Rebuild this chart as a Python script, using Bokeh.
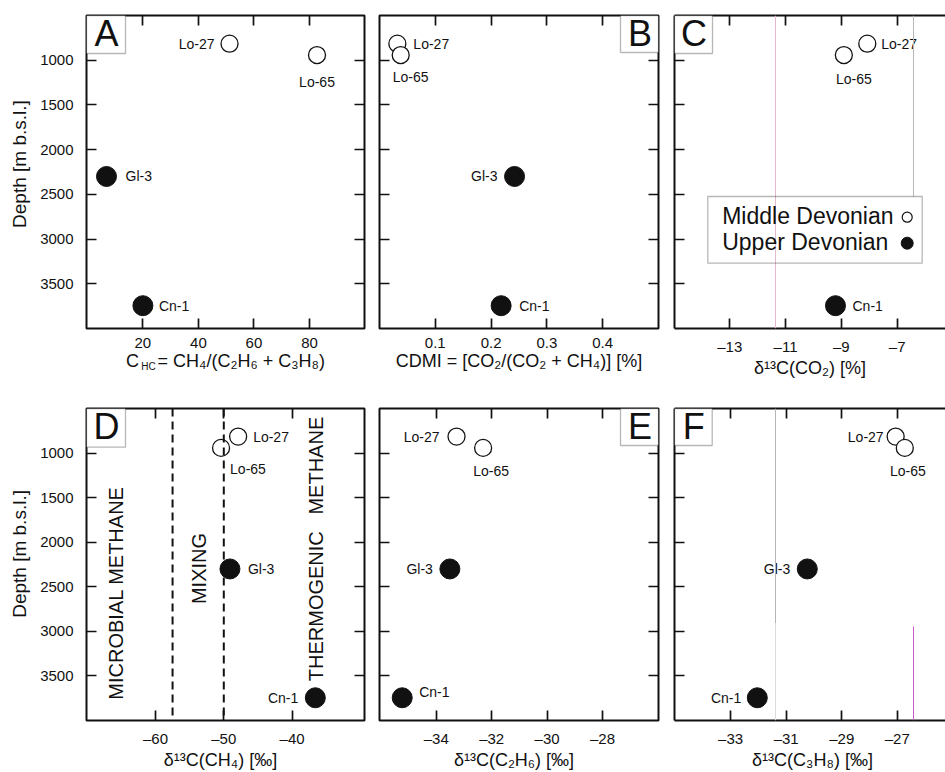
import math
from bokeh.plotting import figure
from bokeh.layouts import row, column
from bokeh.models import (Label, BoxAnnotation, Span, FixedTicker, LinearAxis,
                          Range1d, ColumnDataSource)
from bokeh.embed import file_html
from bokeh.resources import INLINE

FONT = "Liberation Sans"
INK = "#111111"
NB = "\u00a0"

# ---------------- data ----------------
samples = ["Lo-27", "Lo-65", "Gl-3", "Cn-1"]
stratigraphy = ["Middle Devonian", "Middle Devonian", "Upper Devonian", "Upper Devonian"]
depth_m = [815, 942, 2300, 3745]
c_hc = [51.2, 82.7, 6.9, 20.0]
cdmi = [0.032, 0.038, 0.242, 0.218]
d13c_co2 = [-8.07, -8.91, float("nan"), -9.21]
d13c_ch4 = [-47.9, -50.4, -49.1, -36.6]
d13c_c2h6 = [-33.27, -32.31, -33.51, -35.23]
d13c_c3h8 = [-27.06, -26.73, -30.24, -32.04]

depth_ticks = [1000, 1500, 2000, 2500, 3000, 3500]
ticks_a = [20, 40, 60, 80]
ticks_b = [0.1, 0.2, 0.3, 0.4]
ticks_c = [-13, -11, -9, -7]
ticks_d = [-60, -50, -40]
ticks_e = [-34, -32, -30, -28]
ticks_f = [-33, -31, -29, -27]
mixing_bounds = [-57.5, -50]

DEPTH_RANGE = (4000, 500)


def dash_label(t):
    return ("%g" % t).replace("-", "\u2013")


def style_axis(ax, tk, labels, std, line):
    ax.ticker = FixedTicker(ticks=tk, minor_ticks=[])
    ax.major_tick_in = 10
    ax.major_tick_out = 0
    ax.minor_tick_in = 0
    ax.minor_tick_out = 0
    ax.major_tick_line_color = INK
    ax.major_tick_line_width = 1.7
    if line:
        ax.axis_line_color = INK
        ax.axis_line_width = 2
    else:
        ax.axis_line_color = None
    ax.major_label_text_font = FONT
    if labels:
        ax.major_label_text_color = INK
        ax.major_label_text_font_size = "15px"
        ax.major_label_standoff = std
        ax.major_label_overrides = {t: dash_label(t) for t in tk}
    else:
        ax.major_label_text_color = None
        ax.major_label_text_font_size = "1px"
        ax.major_label_standoff = 0
    ax.axis_label_text_font = FONT
    ax.axis_label_text_font_style = "normal"
    ax.axis_label_text_color = INK


def make_panel(letter, xvals, xr, ticks, fw, fh, bl, br, bt, bb,
               ytitle, xtitle, right_edge, label_spec, letter_box):
    p = figure(width=bl + fw + br, height=bt + fh + bb,
               x_range=Range1d(*xr), y_range=Range1d(*DEPTH_RANGE),
               x_axis_type=None, y_axis_type=None,
               output_backend="svg", toolbar_location=None,
               min_border_left=bl, min_border_right=br,
               min_border_top=bt, min_border_bottom=bb)
    p.background_fill_color = "white"
    p.border_fill_color = "white"
    p.xgrid.visible = False
    p.ygrid.visible = False
    if right_edge:
        p.outline_line_color = INK
        p.outline_line_width = 2
    else:
        p.outline_line_color = None
    line = not right_edge

    bottom = LinearAxis()
    style_axis(bottom, ticks, True, 9, line)
    bottom.axis_label = xtitle
    bottom.axis_label_text_font_size = "18px"
    bottom.axis_label_standoff = 0
    p.add_layout(bottom, "below")

    top = LinearAxis()
    style_axis(top, ticks, False, 0, line)
    p.add_layout(top, "above")

    left = LinearAxis()
    style_axis(left, depth_ticks, ytitle is not None, 13, line)
    if ytitle is not None:
        left.axis_label = ytitle
        left.axis_label_text_font_size = "19px"
        left.axis_label_standoff = 7
    p.add_layout(left, "left")

    if right_edge:
        right = LinearAxis()
        style_axis(right, depth_ticks, False, 0, line)
        p.add_layout(right, "right")

    # points
    mid = {"x": [], "y": []}
    up = {"x": [], "y": []}
    for xv, d, s in zip(xvals, depth_m, stratigraphy):
        if xv != xv:
            continue
        tgt = mid if s.startswith("Middle") else up
        tgt["x"].append(xv)
        tgt["y"].append(d)
    p.scatter("x", "y", source=ColumnDataSource(mid), size=17,
              fill_color="white", line_color=INK, line_width=1.3)
    p.scatter("x", "y", source=ColumnDataSource(up), size=20,
              fill_color=INK, line_color=INK, line_width=1)

    # sample labels
    for name, xv, d in zip(samples, xvals, depth_m):
        if xv != xv or name not in label_spec:
            continue
        align, dx, dy = label_spec[name]
        p.add_layout(Label(x=xv, y=d, x_offset=dx, y_offset=-dy, text=name,
                           text_align=align, text_baseline="middle",
                           text_font=FONT, text_font_size="14px",
                           text_color=INK))

    # panel letter box
    l, t, r, b = letter_box
    p.add_layout(BoxAnnotation(left=l, right=r, top=t, bottom=b,
                               left_units="canvas", right_units="canvas",
                               top_units="canvas", bottom_units="canvas",
                               fill_color="white", fill_alpha=1,
                               line_color=INK, line_width=1.3, level="overlay"))
    p.add_layout(Label(x=(l + r) / 2 + 0.5, y=(t + b) / 2 - 1,
                       x_units="canvas", y_units="canvas", level="overlay",
                       text=letter, text_align="center", text_baseline="middle",
                       text_font=FONT, text_font_size="36px", text_color=INK))
    return p


def add_text(p, x, y, text, size="18px", align="center", baseline="middle",
             angle=0.0):
    p.add_layout(Label(x=x, y=y, x_units="canvas", y_units="canvas", text=text,
                       text_align=align, text_baseline=baseline, angle=angle,
                       text_font=FONT, text_font_size=size, text_color=INK))


def add_vline(p, x, top, bottom, color):
    p.add_layout(BoxAnnotation(left=x - 0.5, right=x + 0.5, top=top, bottom=bottom,
                               left_units="canvas", right_units="canvas",
                               top_units="canvas", bottom_units="canvas",
                               fill_color=color, fill_alpha=1, line_color=None,
                               level="annotation"))


# ---------------- top row ----------------
TOP_FH = 313
XR_A = (-0.3, 99.8)
pA = make_panel("A", c_hc, XR_A, ticks_a, 278, TOP_FH, 86, 7, 15, 62,
                NB * 3 + "Depth [m b.s.l.]",
                "C" + NB * 3 + "\u2009= CH\u2084/(C\u2082H\u2086 + C\u2083H\u2088)",
                True,
                {"Lo-27": ("right", -15, 0), "Lo-65": ("center", 0, 27),
                 "Gl-3": ("left", 19, 0), "Cn-1": ("left", 16, 0)},
                (86, 15, 125, 53))

# subscript "HC" of the x title of panel A, as the label of a bare axis
hc_x = XR_A[0] + (148 - 86) / 278 * (XR_A[1] - XR_A[0])
hc_axis = LinearAxis()
hc_axis.ticker = FixedTicker(ticks=[hc_x], minor_ticks=[])
hc_axis.major_label_overrides = {hc_x: "HC"}
hc_axis.major_tick_in = 0
hc_axis.major_tick_out = 0
hc_axis.minor_tick_in = 0
hc_axis.minor_tick_out = 0
hc_axis.major_tick_line_color = None
hc_axis.axis_line_color = None
hc_axis.major_label_text_font = FONT
hc_axis.major_label_text_font_size = "10px"
hc_axis.major_label_text_color = INK
hc_axis.major_label_standoff = -13
pA.add_layout(hc_axis, "below")

pB = make_panel("B", cdmi, (0.0, 0.5), ticks_b, 279, TOP_FH, 8, 8, 15, 62,
                None, "CDMI = [CO\u2082/(CO\u2082 + CH\u2084)] [%]", True,
                {"Lo-27": ("left", 16, 0), "Lo-65": ("left", -8, 22),
                 "Gl-3": ("right", -17, 0), "Cn-1": ("left", 18, 0)},
                (249, 15, 287, 52))
XR_C = (-14.98, -14.98 + 271 / 27.9)
pC = make_panel("C", d13c_co2, XR_C, ticks_c, 271, TOP_FH, 8, 0, 15, 62,
                None, "\u03b4\u00b9\u00b3C(CO\u2082) [%]", False,
                {"Lo-27": ("left", 14, 0), "Lo-65": ("center", 10, 24),
                 "Cn-1": ("left", 17, 0)},
                (8, 15, 46, 53))

# artefact hairlines seen in panel C
add_vline(pC, 109, 15, 328, "#e6b8cf")
add_vline(pC, 247, 15, 196, "#b8b8b8")

# legend (panel C)
pC.add_layout(BoxAnnotation(left=41.3, right=255.7, top=196, bottom=262.7,
                            left_units="canvas", right_units="canvas",
                            top_units="canvas", bottom_units="canvas",
                            fill_color="white", fill_alpha=0,
                            line_color=INK, line_width=1.3, level="annotation"))
add_text(pC, 55.7, 215, "Middle Devonian", size="23px", align="left")
add_text(pC, 55.7, 241.7, "Upper Devonian", size="23px", align="left")


def c_canvas_to_data(cx, cy):
    x = XR_C[0] + (cx - 8) / 271 * (XR_C[1] - XR_C[0])
    y = DEPTH_RANGE[1] + (cy - 15) / TOP_FH * (DEPTH_RANGE[0] - DEPTH_RANGE[1])
    return x, y


lx, ly1 = c_canvas_to_data(240.7, 216.7)
_, ly2 = c_canvas_to_data(240.7, 242.7)
pC.scatter([lx], [ly1], size=10, fill_color="white", line_color=INK, line_width=1.2)
pC.scatter([lx], [ly2], size=12, fill_color=INK, line_color=INK)

# ---------------- bottom row ----------------
BOT_FH = 312
pD = make_panel("D", d13c_ch4, (-70.1, -29.4), ticks_d, 278, BOT_FH, 86, 7, 18, 52,
                NB * 4 + "Depth [m b.s.l.]",
                "\u03b4\u00b9\u00b3C(CH\u2084) [\u2030]" + NB * 2, True,
                {"Lo-27": ("left", 15, 0), "Lo-65": ("left", 9, 21),
                 "Gl-3": ("left", 18, 0), "Cn-1": ("right", -17, 0)},
                (86, 18, 125, 56.7))
pE = make_panel("E", d13c_c2h6, (-36.05, -25.98), ticks_e, 279, BOT_FH, 8, 8, 18, 52,
                None, "\u03b4\u00b9\u00b3C(C\u2082H\u2086) [\u2030]" + NB * 2, True,
                {"Lo-27": ("right", -17, 0), "Lo-65": ("center", 8, 23),
                 "Gl-3": ("right", -17, 0), "Cn-1": ("left", 17, -6)},
                (249, 18, 287, 55))
pF = make_panel("F", d13c_c3h8, (-35.02, -35.02 + 271 / 27.78), ticks_f, 271, BOT_FH,
                8, 0, 18, 52,
                None, NB + "\u03b4\u00b9\u00b3C(C\u2083H\u2088) [\u2030]", False,
                {"Lo-27": ("right", -12, 0), "Lo-65": ("center", 3, 23),
                 "Gl-3": ("right", -17, 0), "Cn-1": ("right", -16, 0)},
                (8, 18, 45.7, 55))

for xb in mixing_bounds:
    pD.add_layout(Span(location=xb, dimension="height", line_color=INK,
                       line_width=2, line_dash="8 5"))

add_text(pD, 115, 202.5, "MICROBIAL METHANE", size="20px", angle=math.pi / 2)
add_text(pD, 198.5, 178, "MIXING", size="20px", angle=math.pi / 2)
add_text(pD, 315, 158.5, "THERMOGENIC" + NB * 3 + "METHANE", size="20px",
         angle=math.pi / 2)

add_vline(pF, 109, 18, 233, "#b5b5b5")
add_vline(pF, 109, 233, 330, "#dcdcdc")
add_vline(pF, 247, 236, 330, "#c85ac8")

layout = column(row(pA, pB, pC), row(pD, pE, pF))

with open("out.html", "w") as f:
    f.write(file_html(layout, INLINE))
